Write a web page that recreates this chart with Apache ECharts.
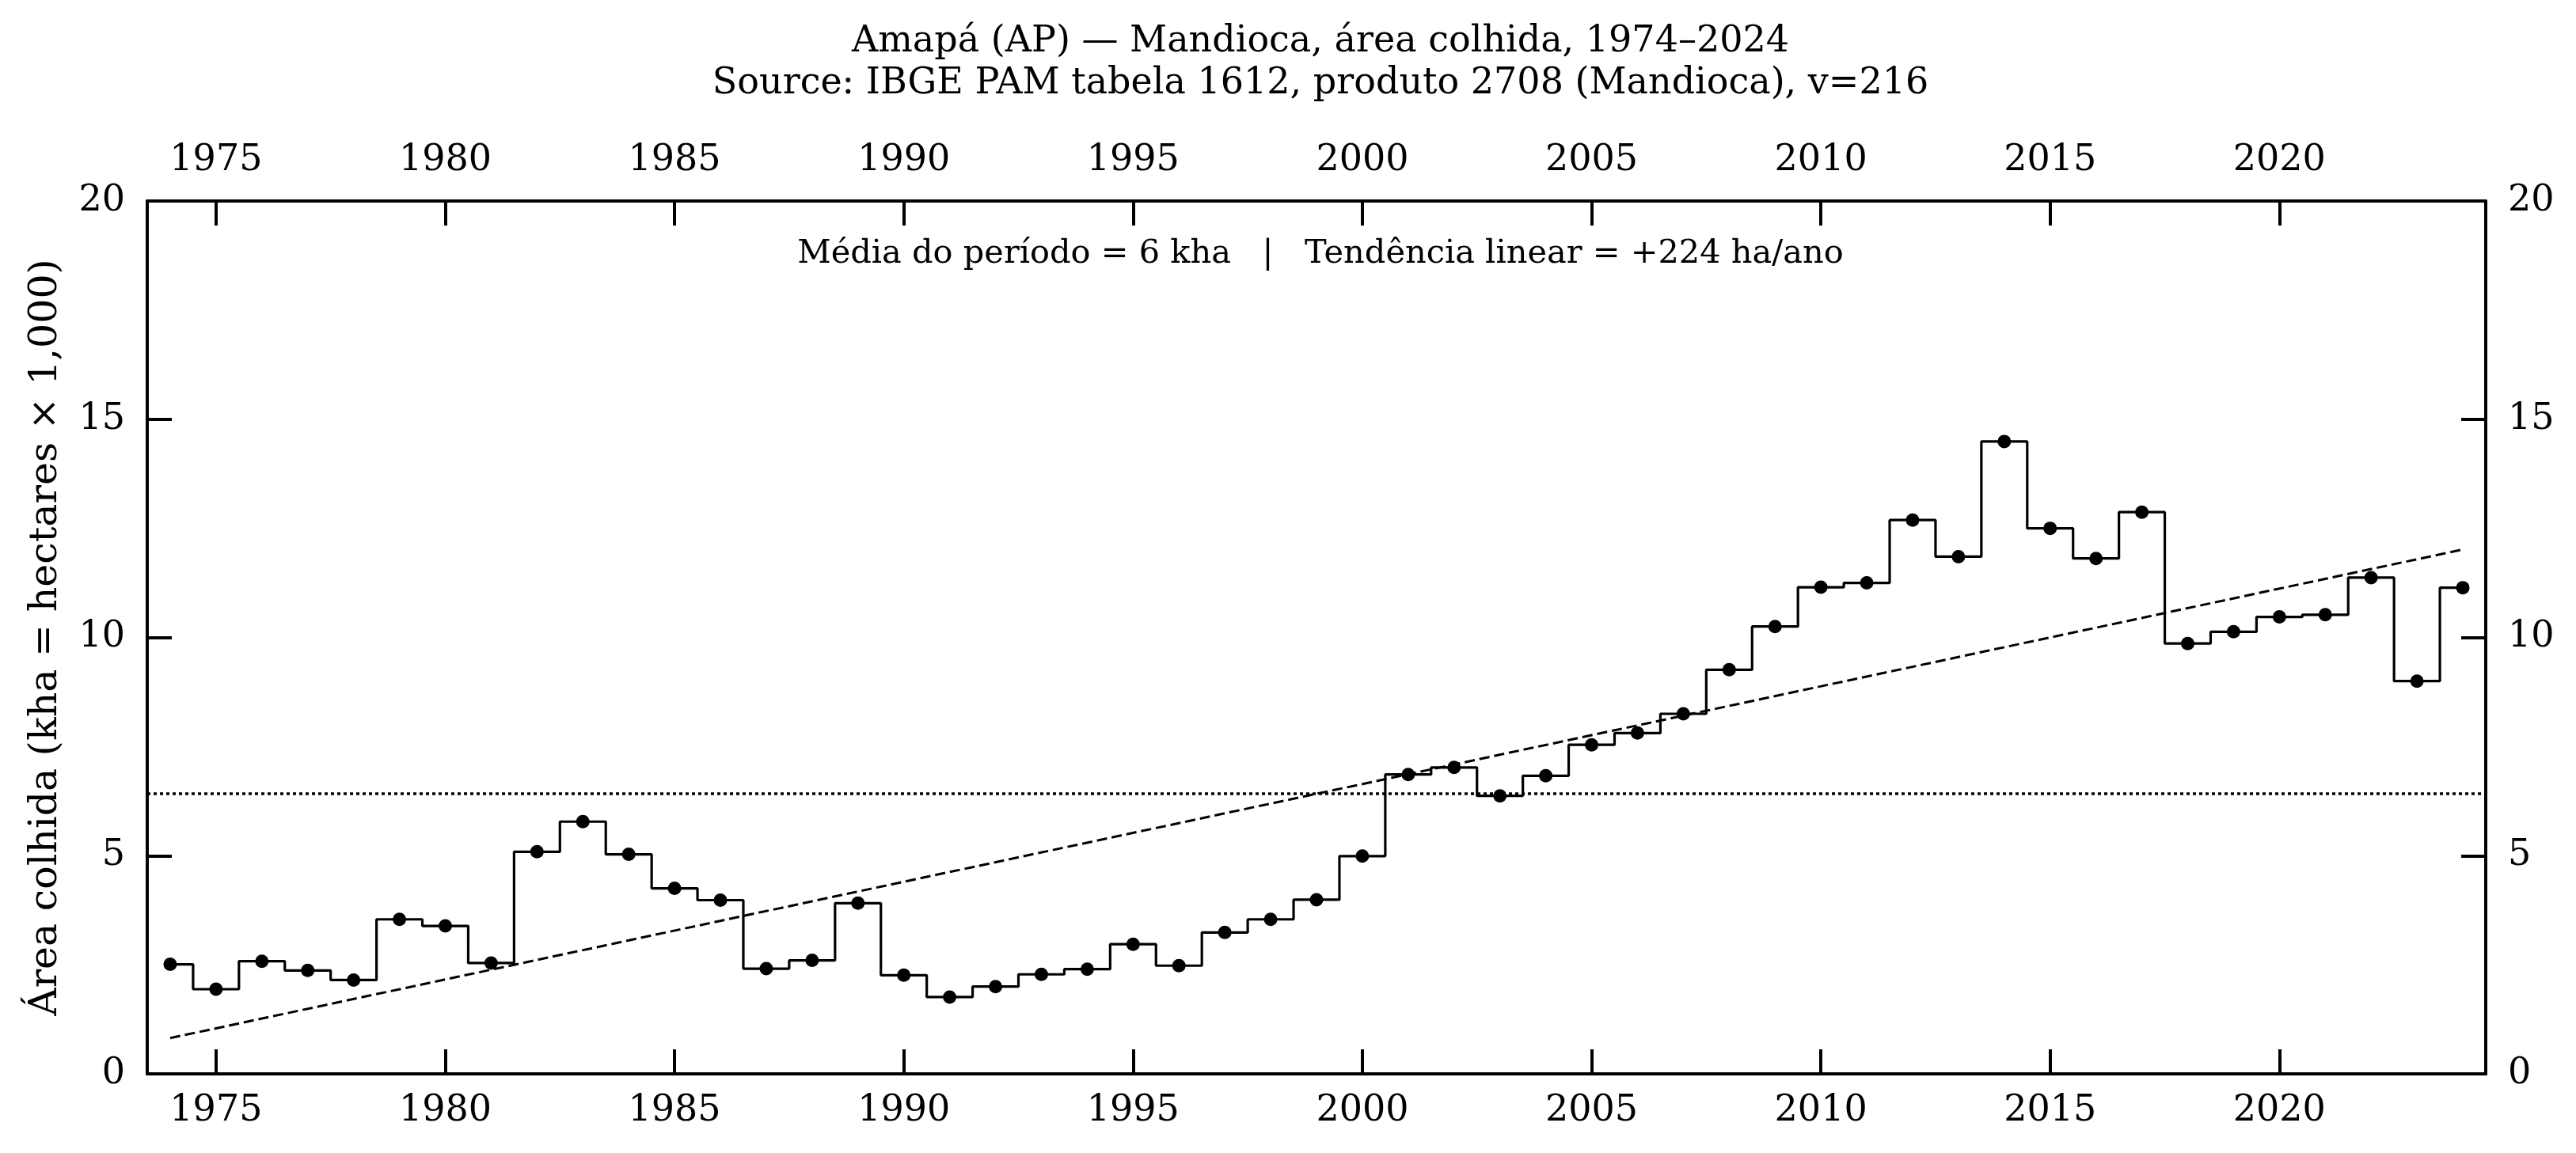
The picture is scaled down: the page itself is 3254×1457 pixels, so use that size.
<!DOCTYPE html>
<html>
<head>
<meta charset="utf-8">
<script src="https://cdn.jsdelivr.net/npm/echarts@6/dist/echarts.min.js"></script>
<style>
html,body{margin:0;padding:0;background:#fff;}
#chart{width:3254px;height:1457px;}
</style>
</head>
<body>
<div id="chart"></div>
<script>
const years = [1974,1975,1976,1977,1978,1979,1980,1981,1982,1983,1984,1985,1986,
  1987,1988,1989,1990,1991,1992,1993,1994,1995,1996,1997,1998,1999,
  2000,2001,2002,2003,2004,2005,2006,2007,2008,2009,2010,2011,2012,
  2013,2014,2015,2016,2017,2018,2019,2020,2021,2022,2023,2024];
const areaKha = [2.51,1.94,2.58,2.37,2.15,3.54,3.39,2.54,5.09,5.78,5.03,4.25,3.98,
  2.41,2.60,3.91,2.26,1.76,2.00,2.28,2.40,2.97,2.48,3.24,3.54,3.99,
  4.99,6.86,7.02,6.37,6.83,7.54,7.81,8.25,9.26,10.25,11.15,11.25,12.69,
  11.85,14.49,12.50,11.81,12.87,9.86,10.13,10.47,10.52,11.37,9.00,11.14];
const xTickYears = [1975,1980,1985,1990,1995,2000,2005,2010,2015,2020];
const yTicks = [0,5,10,15,20];
const titleText = 'Amapá (AP) — Mandioca, área colhida, 1974–2024\nSource: IBGE PAM tabela 1612, produto 2708 (Mandioca), v=216';
const annotationText = 'Média do período = 6 kha   |   Tendência linear = +224 ha/ano';
const yAxisName = 'Área colhida (kha = hectares × 1,000)';

// derived statistics
const n = years.length;
const meanX = years.reduce((a,b)=>a+b,0)/n;
const meanY = areaKha.reduce((a,b)=>a+b,0)/n;
let sxy=0, sxx=0;
for(let i=0;i<n;i++){ sxy += (years[i]-meanX)*(areaKha[i]-meanY); sxx += (years[i]-meanX)**2; }
const slope = sxy/sxx, intercept = meanY - slope*meanX;
const trendData = [years[0], years[n-1]].map(x => [x, intercept + slope*x]);
const stepData = years.map((y,i)=>[y, areaKha[i]]);

const FONT = 'DejaVu Serif';
const black = '#000';
const TICKFS = 46;
const axisCommon = {
  axisLine:{show:true,onZero:false,lineStyle:{color:black,width:4}},
  axisTick:{show:true,inside:true,length:31,lineStyle:{color:black,width:4}},
  splitLine:{show:false},
};
const plainNum = v => String(Math.round(v));
const chart = echarts.init(document.getElementById('chart'), null, {renderer:'canvas'});
chart.setOption({
  animation:false,
  backgroundColor:'#fff',
  title:[
    {text:titleText,left:1663,top:22,textAlign:'center',
     textStyle:{fontFamily:FONT,fontSize:46,fontWeight:'normal',color:black,lineHeight:53}},
    {text:annotationText,left:1663,top:295,textAlign:'center',
     textStyle:{fontFamily:FONT,fontSize:41.5,fontWeight:'normal',color:black,lineHeight:42}}
  ],
  grid:{left:186,right:114,top:254,bottom:100,containLabel:false},
  xAxis:[
    Object.assign({type:'value',position:'bottom',min:1973.5,max:2024.5,
      axisLabel:{show:true,customValues:xTickYears,margin:24,formatter:plainNum,fontFamily:FONT,fontSize:TICKFS,color:black},
    }, axisCommon, {axisTick:Object.assign({}, axisCommon.axisTick, {customValues:xTickYears})}),
    Object.assign({type:'value',position:'top',min:1973.5,max:2024.5,
      axisLabel:{show:true,customValues:xTickYears,margin:28,formatter:plainNum,fontFamily:FONT,fontSize:TICKFS,color:black},
    }, axisCommon, {axisTick:Object.assign({}, axisCommon.axisTick, {customValues:xTickYears})})
  ],
  yAxis:[
    Object.assign({type:'value',position:'left',min:0,max:20,interval:5,
      name:yAxisName,nameLocation:'middle',nameRotate:90,nameGap:103,
      nameTextStyle:{fontFamily:FONT,fontSize:49,color:black},
      axisLabel:{show:true,margin:28,formatter:plainNum,fontFamily:FONT,fontSize:TICKFS,color:black},
    }, axisCommon),
    Object.assign({type:'value',position:'right',min:0,max:20,interval:5,
      axisLabel:{show:true,margin:28,formatter:plainNum,fontFamily:FONT,fontSize:TICKFS,color:black},
    }, axisCommon)
  ],
  series:[
    {type:'line',name:'trend',xAxisIndex:0,yAxisIndex:0,data:trendData,
     symbol:'none',lineStyle:{color:black,width:3,type:[13,6]},z:2,
     markLine:{silent:true,symbol:'none',label:{show:false},
       lineStyle:{color:black,width:3.5,type:[4,4]},
       data:[{yAxis:meanY}]}},
    {type:'line',name:'area',xAxisIndex:0,yAxisIndex:0,data:stepData,step:'middle',
     symbol:'circle',symbolSize:17,showSymbol:true,
     lineStyle:{color:black,width:3.2},itemStyle:{color:black},z:3}
  ]
});
</script>
</body>
</html>
